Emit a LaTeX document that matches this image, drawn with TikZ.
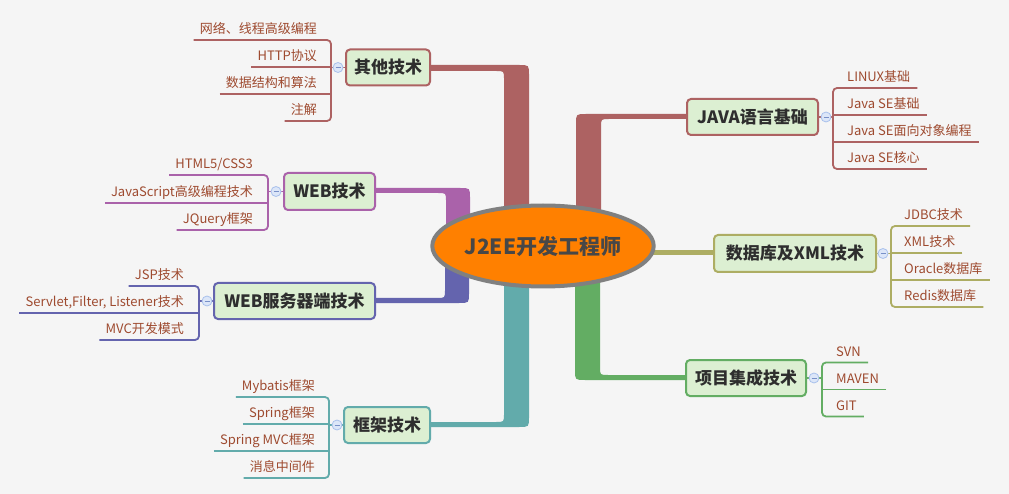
\documentclass[tikz,border=0pt]{standalone}
\usepackage{fontspec}
\setmainfont{Noto Sans CJK SC}
\usetikzlibrary{shapes.geometric,calc}
\definecolor{bg}{HTML}{F5F5F5}
\definecolor{cA}{HTML}{AD6262}
\definecolor{cP}{HTML}{AA62AA}
\definecolor{cB}{HTML}{6464AE}
\definecolor{cT}{HTML}{62ABAB}
\definecolor{cG}{HTML}{63AD63}
\definecolor{cO}{HTML}{ADAD63}
\definecolor{topicfill}{HTML}{DCEFD2}
\definecolor{topictext}{HTML}{2E2E2E}
\definecolor{leaftext}{HTML}{9E4A2F}
\definecolor{centertext}{HTML}{474747}
\definecolor{centerfill}{HTML}{FF8000}
\definecolor{centerline}{HTML}{808080}
\definecolor{togd}{HTML}{A8C0EC}
\definecolor{togf}{HTML}{DCE6F8}
\definecolor{togm}{HTML}{7890C8}
\begin{document}
\begin{tikzpicture}[x=1pt,y=-1pt,
  topic/.style={draw=#1, fill=topicfill, line width=2pt, rounded corners=4pt,
    minimum height=36pt, inner sep=0pt, text=topictext,
    font=\fontsize{17}{20}\selectfont\bfseries},
  leaf/.style={inner sep=0pt, text=leaftext, font=\fontsize{13}{15}\selectfont},
  leafL/.style={leaf, anchor=base east},
  leafR/.style={leaf, anchor=base west},
  uline/.style={draw=#1, line width=1.8pt, rounded corners=4pt},
  toggle/.style={circle, draw=togd, fill=togf, minimum size=10pt, inner sep=0pt,
    line width=0.8pt,
    path picture={\draw[togm, line width=0.8pt]
      ([xshift=-2.5pt]path picture bounding box.center) --
      ([xshift=2.5pt]path picture bounding box.center);}}
]
\fill[bg] (0,0) rectangle (1009,494);
\useasboundingbox (0,0) rectangle (1009,494);

% ---- thick branches from the centre ----
\fill[cA] (420,65) -- (519,65) .. controls (529,65) .. (529,75) -- (529,250)
  -- (504,250) -- (504,79) .. controls (504,71) .. (496,71) -- (420,71) -- cycle;
\fill[cA] (695,114) -- (586,114) .. controls (576,114) .. (576,124) -- (576,250)
  -- (601,250) -- (601,127) .. controls (601,119) .. (609,119) -- (695,119) -- cycle;
\fill[cP] (370,188) -- (460,188) .. controls (470,188) .. (470,198) -- (470,246)
  -- (446,246) -- (446,201) .. controls (446,193) .. (438,193) -- (370,193) -- cycle;
\fill[cB] (370,298) -- (437,298) .. controls (445,298) .. (445,290) -- (445,246)
  -- (469,246) -- (469,293) .. controls (469,303) .. (459,303) -- (370,303) -- cycle;
\fill[cT] (425,422) -- (496,422) .. controls (504,422) .. (504,414) -- (504,246)
  -- (529,246) -- (529,417) .. controls (529,427) .. (519,427) -- (425,427) -- cycle;
\fill[cG] (690,375) -- (608,375) .. controls (600,375) .. (600,367) -- (600,246)
  -- (575,246) -- (575,370) .. controls (575,380) .. (585,380) -- (690,380) -- cycle;
\fill[cO] (630,250) rectangle (720,255);

% ---- centre ----
\node[ellipse, draw=centerline, line width=4pt, fill=centerfill, inner sep=0pt,
  minimum width=216pt, minimum height=81pt, text=centertext,
  font=\fontsize{21}{24}\selectfont\bfseries] (c) at (543,246) {J2EE开发工程师};

% ---- 其他技术 ----
\node[topic=cA, minimum width=84pt] (t1) at (388,67.5) {其他技术};
\node[leafL] (l11) at (317,33.5) {网络、线程高级编程};
\node[leafL] (l12) at (317,60.5) {HTTP协议};
\node[leafL] (l13) at (317,87.5) {数据结构和算法};
\node[leafL] (l14) at (317,114.5) {注解};
\draw[uline=cA] ($(l11.base west)+(-6,6.5)$) -- (331,40) -- (331,121) -- ($(l14.base west)+(-6,6.5)$);
\draw[uline=cA] ($(l12.base west)+(-6,6.5)$) -- (331,67);
\draw[uline=cA] ($(l13.base west)+(-6,6.5)$) -- (331,94);
\coordinate (b1) at (331,67.5);
\draw[uline=cA] (b1) -- (t1.west);
\node[toggle] (k1) at (338,67.5) {};

% ---- WEB技术 ----
\node[topic=cP, minimum width=91pt, minimum height=37pt] (t2) at (329.5,191.5) {WEB技术};
\node[leafL] (l21) at (253,168.5) {HTML5/CSS3};
\node[leafL] (l22) at (253,196.5) {JavaScript高级编程技术};
\node[leafL] (l23) at (253,223.5) {JQuery框架};
\draw[uline=cP] ($(l21.base west)+(-6,6.5)$) -- (268,175) -- (268,230) -- ($(l23.base west)+(-6,6.5)$);
\draw[uline=cP] ($(l22.base west)+(-6,6.5)$) -- (268,203);
\coordinate (b2) at (268,191.5);
\draw[uline=cP] (b2) -- (t2.west);
\node[toggle] (k2) at (276,191.5) {};

% ---- WEB服务器端技术 ----
\node[topic=cB, minimum width=161pt] (t3) at (294.5,301) {WEB服务器端技术};
\node[leafL] (l31) at (184,279.5) {JSP技术};
\node[leafL] (l32) at (184,306.5) {Servlet,Filter, Listener技术};
\node[leafL] (l33) at (184,333.5) {MVC开发模式};
\draw[uline=cB] ($(l31.base west)+(-6,6.5)$) -- (199,286) -- (199,340) -- ($(l33.base west)+(-6,6.5)$);
\draw[uline=cB] ($(l32.base west)+(-6,6.5)$) -- (199,313);
\coordinate (b3) at (199,301);
\draw[uline=cB] (b3) -- (t3.west);
\node[toggle] (k3) at (207,301) {};

% ---- 框架技术 ----
\node[topic=cT, minimum width=86pt] (t4) at (387,425) {框架技术};
\node[leafL] (l41) at (315,390.5) {Mybatis框架};
\node[leafL] (l42) at (315,417.5) {Spring框架};
\node[leafL] (l43) at (315,444.5) {Spring MVC框架};
\node[leafL] (l44) at (315,471.5) {消息中间件};
\draw[uline=cT] ($(l41.base west)+(-6,6.5)$) -- (329,397) -- (329,478) -- ($(l44.base west)+(-6,6.5)$);
\draw[uline=cT] ($(l42.base west)+(-6,6.5)$) -- (329,424);
\draw[uline=cT] ($(l43.base west)+(-6,6.5)$) -- (329,451);
\coordinate (b4) at (329,425);
\draw[uline=cT] (b4) -- (t4.west);
\node[toggle] (k4) at (337,425) {};

% ---- JAVA语言基础 ----
\node[topic=cA, minimum width=131pt] (t5) at (752.5,117) {JAVA语言基础};
\node[leafR] (l51) at (847,81.5) {LINUX基础};
\node[leafR] (l52) at (847,108.5) {Java SE基础};
\node[leafR] (l53) at (847,135.5) {Java SE面向对象编程};
\node[leafR] (l54) at (847,162.5) {Java SE核心};
\draw[uline=cA] ($(l51.base east)+(7,6.5)$) -- (833,88) -- (833,169) -- ($(l54.base east)+(7,6.5)$);
\draw[uline=cA] ($(l52.base east)+(7,6.5)$) -- (833,115);
\draw[uline=cA] ($(l53.base east)+(7,6.5)$) -- (833,142);
\coordinate (b5) at (833,117);
\draw[uline=cA] (t5.east) -- (b5);
\node[toggle] (k5) at (826,117) {};

% ---- 数据库及XML技术 ----
\node[topic=cO, minimum width=162pt, minimum height=37pt] (t6) at (795,253.5) {数据库及XML技术};
\node[leafR] (l61) at (904,219.5) {JDBC技术};
\node[leafR] (l62) at (904,246.5) {XML技术};
\node[leafR] (l63) at (904,273.5) {Oracle数据库};
\node[leafR] (l64) at (904,300.5) {Redis数据库};
\draw[uline=cO] ($(l61.base east)+(7,6.5)$) -- (891,226) -- (891,307) -- ($(l64.base east)+(7,6.5)$);
\draw[uline=cO] ($(l62.base east)+(7,6.5)$) -- (891,253);
\draw[uline=cO] ($(l63.base east)+(7,6.5)$) -- (891,280);
\coordinate (b6) at (891,253.5);
\draw[uline=cO] (t6.east) -- (b6);
\node[toggle] (k6) at (883,253.5) {};

% ---- 项目集成技术 ----
\node[topic=cG, minimum width=120pt] (t7) at (746,378) {项目集成技术};
\node[leafR] (l71) at (836,356) {SVN};
\node[leafR] (l72) at (836,383) {MAVEN};
\node[leafR] (l73) at (836,410) {GIT};
\draw[uline=cG] ($(l71.base east)+(7,6.5)$) -- (822,362.5) -- (822,416.5) -- ($(l73.base east)+(7,6.5)$);
\draw[uline=cG] ($(l72.base east)+(7,6.5)$) -- (822,389.5);
\coordinate (b7) at (822,378);
\draw[uline=cG] (t7.east) -- (b7);
\node[toggle] (k7) at (814,378) {};
\end{tikzpicture}
\end{document}
